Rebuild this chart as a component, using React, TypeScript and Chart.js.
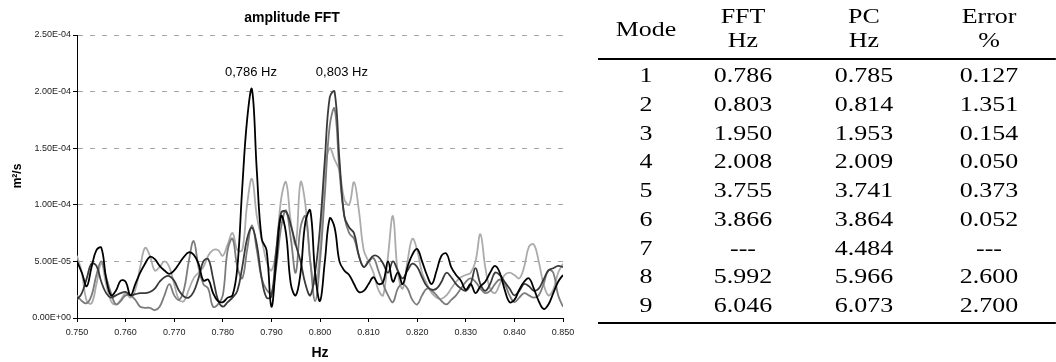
import React, { useEffect, useRef } from "react";
import { Chart, registerables } from "chart.js";

Chart.register(...registerables);

// ---------- chart data ----------
const CHART_TITLE = "amplitude FFT";
const X_TITLE = "Hz";
const Y_TITLE = "m²/s";

// frequency grid (Hz)
const freqs = [
  0.750, 0.751, 0.752, 0.753, 0.754, 0.755, 0.756, 0.757, 0.758, 0.759,
  0.760, 0.761, 0.762, 0.763, 0.764, 0.765, 0.766, 0.767, 0.768, 0.769,
  0.770, 0.771, 0.772, 0.773, 0.774, 0.775, 0.776, 0.777, 0.778, 0.779,
  0.780, 0.781, 0.782, 0.783, 0.784, 0.785, 0.786, 0.787, 0.788, 0.789,
  0.790, 0.791, 0.792, 0.793, 0.794, 0.795, 0.796, 0.797, 0.798, 0.799,
  0.800, 0.801, 0.802, 0.803, 0.804, 0.805, 0.806, 0.807, 0.808, 0.809,
  0.810, 0.811, 0.812, 0.813, 0.814, 0.815, 0.816, 0.817, 0.818, 0.819,
  0.820, 0.821, 0.822, 0.823, 0.824, 0.825, 0.826, 0.827, 0.828, 0.829,
  0.830, 0.831, 0.832, 0.833, 0.834, 0.835, 0.836, 0.837, 0.838, 0.839,
  0.840, 0.841, 0.842, 0.843, 0.844, 0.845, 0.846, 0.847, 0.848, 0.849,
  0.850,
];

// amplitudes in units of 1E-05 m²/s
const UNIT = 1e-5;
const seriesBlack = [
  5.0, 4.0, 2.8, 4.5, 6.0, 6.2, 3.5, 2.0, 2.4, 3.3,
  3.2, 2.0, 3.0, 4.0, 4.8, 5.4, 5.2, 4.6, 4.2, 3.9,
  4.2, 4.8, 5.4, 5.8, 5.6, 4.8, 3.3, 3.4, 2.2, 1.5,
  1.4, 1.8, 2.0, 4.5, 11.5, 17.5, 20.2, 13.0, 7.0, 6.0,
  1.0, 5.0, 9.0, 7.5, 3.0, 2.0, 4.0, 8.5, 9.5, 4.0,
  1.5, 5.0, 8.8, 8.0, 5.0, 4.2, 3.8, 3.0, 2.3, 2.4,
  3.0, 3.6, 3.0, 3.2, 5.0, 3.2, 4.0, 3.0, 4.5, 5.6,
  6.1, 5.0, 3.8, 3.0, 4.2, 5.5, 5.7, 4.5, 3.8, 3.3,
  2.5, 3.0, 2.2, 2.8, 3.2, 4.0, 4.6, 4.0, 2.5, 1.4,
  1.6, 2.5, 3.2, 3.5, 2.6, 1.5, 0.8, 1.2, 2.2, 3.2,
  3.8,
];
const seriesDark = [
  1.6, 2.2, 3.5, 4.8, 4.6, 3.2, 2.2, 1.8, 2.0, 2.2,
  2.3, 2.0, 2.1, 2.2, 2.2, 2.3, 2.6, 3.2, 3.6, 3.7,
  3.3, 2.4, 1.9, 1.8, 2.3, 3.5, 5.0, 5.2, 3.5, 1.6,
  1.0, 1.4, 1.8, 2.4, 4.5, 7.0, 8.0, 6.5, 3.5, 1.8,
  1.9, 6.0, 9.3, 9.4, 8.2, 6.5, 5.0, 3.0, 2.0, 4.0,
  8.0, 14.0, 19.5, 20.0, 14.0, 9.0, 8.0, 7.5, 5.5, 4.5,
  5.0, 5.5, 5.4, 4.8, 4.0, 5.0, 4.2, 3.5, 4.2, 4.8,
  4.5, 3.6, 2.8, 2.5, 2.6, 3.2, 4.0, 3.6, 3.0, 2.6,
  2.4, 3.0, 4.4, 3.0, 2.4, 3.0, 4.0, 3.8, 3.2, 2.6,
  2.0, 2.4, 3.0, 2.8, 2.4, 2.6, 3.4, 4.2, 4.4, 4.6,
  4.5,
];
const seriesMid = [
  2.0, 1.5, 1.3, 2.0, 3.8, 5.0, 3.6, 2.2, 1.2, 1.5,
  2.0, 2.0, 1.6, 1.0, 0.9, 0.9, 0.7, 1.0, 2.0, 3.0,
  2.0, 1.6, 2.5, 5.0, 6.8, 4.5, 3.0, 2.6, 1.0, 1.2,
  2.0, 6.0, 7.0, 4.5, 3.5, 6.0, 8.2, 6.0, 3.5, 2.5,
  2.2, 4.5, 8.0, 9.5, 7.0, 4.0, 8.0, 9.0, 5.0, 1.5,
  5.0, 11.0, 17.0, 18.5, 13.0, 9.0, 7.5, 7.0, 5.5, 4.5,
  5.0, 5.3, 4.2, 3.0, 2.0, 1.4, 2.6, 3.0, 2.6, 1.6,
  1.2, 2.0, 2.6, 2.4, 2.0, 1.5, 1.2, 1.6, 2.0, 2.6,
  3.2, 3.5, 3.2, 2.6, 2.2, 2.4, 3.0, 3.4, 3.0, 2.0,
  1.4, 1.8, 2.2, 2.0, 1.8, 2.0, 3.0, 4.2, 4.0, 2.0,
  1.0,
];
const seriesLight = [
  5.5, 4.0, 1.5, 1.3, 3.0, 4.8, 3.0, 1.5, 1.2, 1.6,
  2.2, 1.8, 2.5, 4.5, 6.2, 5.5, 4.2, 4.5, 5.0, 4.5,
  3.0, 1.6, 1.5, 2.5, 3.5, 4.0, 4.5, 5.5, 6.0, 6.0,
  5.5, 6.5, 7.5, 6.0, 6.0, 10.0, 12.3, 9.0, 7.0, 5.0,
  4.2, 6.0, 10.5, 12.0, 8.5, 6.5, 12.0, 10.0, 5.0, 3.0,
  6.0, 13.0, 15.0, 14.0, 13.0, 10.5, 10.0, 12.0, 9.5, 6.0,
  5.0, 4.0, 2.5, 2.0, 5.5, 9.0, 4.0, 2.6, 5.0, 7.0,
  6.0, 4.0, 3.0, 2.2, 1.8, 1.7, 2.0, 2.6, 3.2, 3.6,
  3.8, 4.0, 5.0, 7.4, 4.5, 2.6, 2.2, 3.0, 3.8, 4.0,
  3.8, 3.5, 4.5, 6.3, 6.5, 5.0, 3.0, 2.0, 2.5, 4.0,
  4.8,
];
const seriesList = [seriesBlack, seriesDark, seriesMid, seriesLight];
const seriesColors = ["#000000", "#3a3a3a", "#7c7c7c", "#ababab"];

// peak annotations
const peakLabels = ["0,786 Hz", "0,803 Hz"];
const peakLabelX = [0.7858, 0.8045];
const peakLabelY = [2.17e-4, 2.17e-4];

// axis ranges
const X_MIN = 0.75;
const X_MAX = 0.85;
const X_STEP = 0.01;
const Y_MIN = 0;
const Y_MAX = 2.5e-4;
const Y_STEP = 5e-5;

// ---------- table data ----------
const tableHeaderTop = ["FFT", "PC", "Error"];
const tableHeaderBottom = ["Hz", "Hz", "%"];
const modes = ["1", "2", "3", "4", "5", "6", "7", "8", "9"];
const fftHz = ["0.786", "0.803", "1.950", "2.008", "3.755", "3.866", "---", "5.992", "6.046"];
const pcHz = ["0.785", "0.814", "1.953", "2.009", "3.741", "3.864", "4.484", "5.966", "6.073"];
const errorPct = ["0.127", "1.351", "0.154", "0.050", "0.373", "0.052", "---", "2.600", "2.700"];

function fmtSci(v: number): string {
  if (Math.abs(v) < 1e-12) return "0.00E+00";
  const e = Math.floor(Math.log10(Math.abs(v)) + 1e-6);
  const m = v / Math.pow(10, e);
  return m.toFixed(2) + "E" + (e < 0 ? "-" : "+") + String(Math.abs(e)).padStart(2, "0");
}

const SANS = '"Liberation Sans", Arial, sans-serif';

const textPlugin = {
  id: "customTexts",
  afterDraw(chart: any) {
    const { ctx, scales, chartArea } = chart;
    const x = scales.x;
    const y = scales.y;
    ctx.save();
    ctx.fillStyle = "#000";
    ctx.textAlign = "center";
    ctx.textBaseline = "middle";
    ctx.font = "bold 14px " + SANS;
    ctx.fillText(CHART_TITLE, 292, 18);
    ctx.fillText(X_TITLE, (chartArea.left + chartArea.right) / 2, 353);
    ctx.font = "13px " + SANS;
    peakLabels.forEach((t, i) => {
      ctx.fillText(t, x.getPixelForValue(peakLabelX[i]), y.getPixelForValue(peakLabelY[i]));
    });
    ctx.translate(18, 176);
    ctx.rotate(-Math.PI / 2);
    ctx.font = "bold 12px " + SANS;
    ctx.fillText(Y_TITLE, 0, 0);
    ctx.restore();
  },
};

function FftChart() {
  const ref = useRef<HTMLCanvasElement | null>(null);
  useEffect(() => {
    if (!ref.current) return;
    const chart = new Chart(ref.current, {
      type: "line",
      data: {
        datasets: seriesList.map((s, k) => ({
          data: freqs.map((f, i) => ({ x: f, y: s[i] * UNIT })),
          borderColor: seriesColors[k],
          borderWidth: 1.8,
          pointRadius: 0,
          tension: 0.4,
          fill: false,
        })),
      },
      options: {
        responsive: false,
        animation: false,
        devicePixelRatio: 1,
        layout: { padding: { top: 35, right: 37, bottom: 0, left: 0 } },
        plugins: {
          legend: { display: false },
          title: { display: false },
          tooltip: { enabled: false },
        },
        scales: {
          x: {
            type: "linear",
            min: X_MIN,
            max: X_MAX,
            ticks: {
              stepSize: X_STEP,
              autoSkip: false,
              maxRotation: 0,
              padding: 5,
              color: "#222",
              font: { family: SANS, size: 9 },
              callback: (v: any) => Number(v).toFixed(3),
            },
            grid: { drawOnChartArea: false, drawTicks: true, tickLength: 4, tickColor: "#000" },
            border: { color: "#000", width: 1 },
            afterFit: (s: any) => {
              s.height = 44;
            },
          },
          y: {
            type: "linear",
            min: Y_MIN,
            max: Y_MAX,
            ticks: {
              stepSize: Y_STEP,
              padding: 2,
              color: "#222",
              font: { family: SANS, size: 9 },
              callback: (v: any) => fmtSci(Number(v)),
            },
            grid: {
              color: (c: any) => (c.tick && Math.abs(c.tick.value) < 1e-12 ? "rgba(0,0,0,0)" : "#a6a6a6"),
              lineWidth: 1,
              tickLength: 4,
              tickColor: "#000",
              tickBorderDash: [],
            },
            border: { color: "#000", width: 1, dash: [5, 7] },
            afterFit: (s: any) => {
              s.width = 77;
            },
          },
        },
      } as any,
      plugins: [textPlugin],
    });
    return () => chart.destroy();
  }, []);
  return (
    <canvas
      ref={ref}
      width={600}
      height={362}
      style={{ position: "absolute", left: 0, top: 0, width: 600, height: 362, display: "block" }}
    />
  );
}

const SX = 1.18;
const colCenters = [40.7, 122.9, 225.4, 331.4];
const rowCenters0 = 75;
const rowStep = 28.75;

function Cell({ cx, cy, text }: { cx: number; cy: number; text: string }) {
  return (
    <div
      style={{
        position: "absolute",
        left: cx - 50,
        width: 100,
        top: cy - 13,
        height: 26,
        lineHeight: "26px",
        textAlign: "center",
        whiteSpace: "nowrap",
      }}
    >
      {text}
    </div>
  );
}

function ModeTable() {
  const cols = [fftHz, pcHz, errorPct];
  return (
    <div
      style={{
        position: "absolute",
        left: 598,
        top: 0,
        width: 388,
        height: 362,
        transform: `scaleX(${SX})`,
        transformOrigin: "0 0",
        fontFamily: '"Liberation Serif", "Times New Roman", serif',
        fontSize: 22,
        color: "#000",
      }}
    >
      <Cell cx={colCenters[0]} cy={29} text="Mode" />
      {tableHeaderTop.map((t, i) => (
        <Cell key={"ht" + i} cx={colCenters[i + 1]} cy={16} text={t} />
      ))}
      {tableHeaderBottom.map((t, i) => (
        <Cell key={"hb" + i} cx={colCenters[i + 1]} cy={40} text={t} />
      ))}
      <div style={{ position: "absolute", left: 0, width: 388, top: 58, height: 2, background: "#000" }} />
      {modes.map((m, r) => (
        <React.Fragment key={"r" + r}>
          <Cell cx={colCenters[0]} cy={rowCenters0 + r * rowStep} text={m} />
          {cols.map((c, k) => (
            <Cell key={"c" + k} cx={colCenters[k + 1]} cy={rowCenters0 + r * rowStep} text={c[r]} />
          ))}
        </React.Fragment>
      ))}
      <div style={{ position: "absolute", left: 0, width: 388, top: 322, height: 2, background: "#000" }} />
    </div>
  );
}

export default function App() {
  return (
    <div
      style={{
        position: "fixed",
        left: 0,
        top: 0,
        width: 1056,
        height: 362,
        background: "#fff",
        overflow: "hidden",
      }}
    >
      <FftChart />
      <ModeTable />
    </div>
  );
}
